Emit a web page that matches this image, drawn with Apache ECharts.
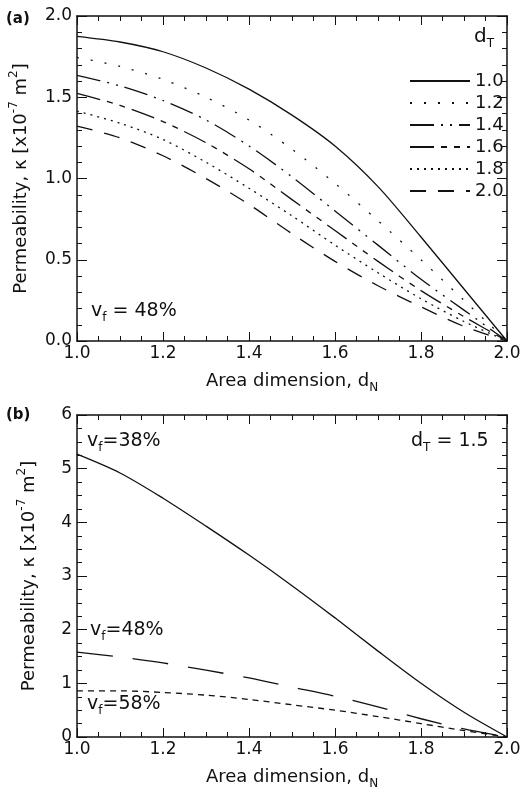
<!DOCTYPE html>
<html>
<head>
<meta charset="utf-8">
<script src="https://cdn.jsdelivr.net/npm/echarts@6/dist/echarts.min.js"></script>
<style>
  html, body { margin: 0; padding: 0; background: #fff; }
  #chart { width: 525px; height: 792px; }
</style>
</head>
<body>
<div id="chart"></div>
<script>
// area dimension d_N
var dN = [1.0, 1.1, 1.2, 1.3, 1.4, 1.5, 1.6, 1.7, 1.8, 1.9, 2.0];

// (a) v_f = 48%, one curve per d_T
var dTNames = ['1.0', '1.2', '1.4', '1.6', '1.8', '2.0'];
var kT10 = [1.875, 1.84, 1.78, 1.68, 1.55, 1.39, 1.20, 0.95, 0.64, 0.32, 0];
var kT12 = [1.745, 1.69, 1.61, 1.50, 1.36, 1.18, 0.97, 0.74, 0.50, 0.25, 0];
var kT14 = [1.635, 1.57, 1.48, 1.36, 1.20, 1.01, 0.80, 0.59, 0.38, 0.19, 0];
var kT16 = [1.524, 1.45, 1.35, 1.22, 1.06, 0.87, 0.68, 0.49, 0.31, 0.15, 0];
var kT18 = [1.415, 1.34, 1.24, 1.10, 0.94, 0.77, 0.59, 0.42, 0.26, 0.12, 0];
var kT20 = [1.323, 1.25, 1.14, 1.00, 0.84, 0.66, 0.49, 0.34, 0.21, 0.09, 0];

// (b) d_T = 1.5, one curve per v_f
var kV38 = [5.27, 4.92, 4.45, 3.93, 3.39, 2.82, 2.22, 1.60, 1.00, 0.46, 0];
var kV48 = [1.58, 1.49, 1.38, 1.245, 1.10, 0.93, 0.76, 0.56, 0.34, 0.15, 0];
var kV58 = [0.86, 0.86, 0.83, 0.78, 0.70, 0.60, 0.50, 0.38, 0.25, 0.12, 0];

var FONT = 'DejaVu Sans';
var INK = '#111';

var chart = echarts.init(document.getElementById('chart'), null, { renderer: 'canvas' });

function pts(arr) {
  return dN.map(function (x, i) { return [x, arr[i]]; });
}

var richTxt = {
  s: { fontSize: 12, fontFamily: FONT, color: INK, verticalAlign: 'bottom', lineHeight: 12 },
  p: { fontSize: 12, fontFamily: FONT, color: INK, verticalAlign: 'top', lineHeight: 12 }
};

function xAxisOf(grid, bottom) {
  return {
    type: 'value', gridIndex: grid, min: 1.0, max: 2.0, interval: 0.2,
    position: bottom ? 'bottom' : 'top',
    name: bottom ? 'Area dimension, d{s|N}' : '',
    nameLocation: 'middle', nameGap: 27,
    nameTextStyle: { fontFamily: FONT, fontSize: 18, color: INK, lineHeight: 26, rich: richTxt },
    axisLine: { show: true, onZero: false, lineStyle: { color: INK, width: 1.5 } },
    axisTick: { show: true, inside: true, length: 9, lineStyle: { color: INK } },
    minorTick: { show: true, splitNumber: 4, length: 5, lineStyle: { color: INK } },
    splitLine: { show: false },
    axisLabel: {
      show: bottom, margin: 4, fontFamily: FONT, fontSize: 17, color: INK,
      formatter: function (v) { return v.toFixed(1); }
    }
  };
}

function yAxisOf(grid, left, max, interval, minorSplit, decimals) {
  return {
    type: 'value', gridIndex: grid, min: 0, max: max, interval: interval,
    position: left ? 'left' : 'right',
    name: left ? 'Permeability, κ [x10{p|-7} m{p|2}]' : '',
    nameLocation: 'middle', nameGap: 35,
    nameTextStyle: { fontFamily: FONT, fontSize: 18, color: INK, lineHeight: 26, rich: richTxt },
    axisLine: { show: true, onZero: false, lineStyle: { color: INK, width: 1.5 } },
    axisTick: { show: true, inside: true, length: 10, lineStyle: { color: INK } },
    minorTick: { show: true, splitNumber: minorSplit, length: 5, lineStyle: { color: INK } },
    splitLine: { show: false },
    axisLabel: {
      show: left, margin: 5, fontFamily: FONT, fontSize: 17, color: INK,
      formatter: function (v) { return v.toFixed(decimals); }
    }
  };
}

function curve(name, arr, dash, xi, yi) {
  return {
    name: name, type: 'line', xAxisIndex: xi, yAxisIndex: yi,
    data: pts(arr), symbol: 'none', smooth: 0.3,
    lineStyle: { color: INK, width: 1.3, type: dash },
    itemStyle: { color: INK },
    silent: true
  };
}

var dashes = ['solid', [2, 12], [24, 7, 2, 7, 2, 7], [24, 7, 6, 7, 6, 7], [2, 5], [16, 12]];
var kTs = [kT10, kT12, kT14, kT16, kT18, kT20];

var series = dTNames.map(function (n, i) { return curve(n, kTs[i], dashes[i], 0, 0); });
series.push(curve('v38', kV38, 'solid', 2, 2));
series.push(curve('v48', kV48, [36, 20], 2, 2));
series.push(curve('v58', kV58, [6, 5], 2, 2));

function label(txt, left, top, size, bold) {
  return {
    type: 'text', left: left, top: top,
    style: {
      text: txt, fontFamily: FONT, fontSize: size, fill: INK,
      fontWeight: bold ? 'bold' : 'normal', lineHeight: 26, rich: richTxt
    }
  };
}

var option = {
  animation: false,
  backgroundColor: '#fff',
  grid: [
    { left: 77, right: 18, top: 16, height: 325 },
    { left: 77, right: 18, top: 415, height: 322 }
  ],
  xAxis: [xAxisOf(0, true), xAxisOf(0, false), xAxisOf(1, true), xAxisOf(1, false)],
  yAxis: [
    yAxisOf(0, true, 2.0, 0.5, 5, 1), yAxisOf(0, false, 2.0, 0.5, 5, 1),
    yAxisOf(1, true, 6, 1, 4, 0), yAxisOf(1, false, 6, 1, 4, 0)
  ],
  legend: {
    data: dTNames, orient: 'vertical', left: 404, top: 67,
    itemWidth: 60, itemHeight: 14, itemGap: 4,
    itemStyle: { color: 'transparent', borderWidth: 0, opacity: 0 },
    textStyle: { fontFamily: FONT, fontSize: 18, color: INK },
    selectedMode: false
  },
  graphic: [
    label('(a)', 6, 6, 15, true),
    label('d{s|T}', 474, 24, 20),
    label('v{s|f} = 48%', 91, 298, 19),
    label('(b)', 6, 402, 15, true),
    label('v{s|f}=38%', 87, 428, 19),
    label('d{s|T} = 1.5', 411, 428, 19),
    label('v{s|f}=48%', 90, 617, 19),
    label('v{s|f}=58%', 87, 691, 19)
  ],
  series: series
};

chart.setOption(option);
</script>
</body>
</html>
